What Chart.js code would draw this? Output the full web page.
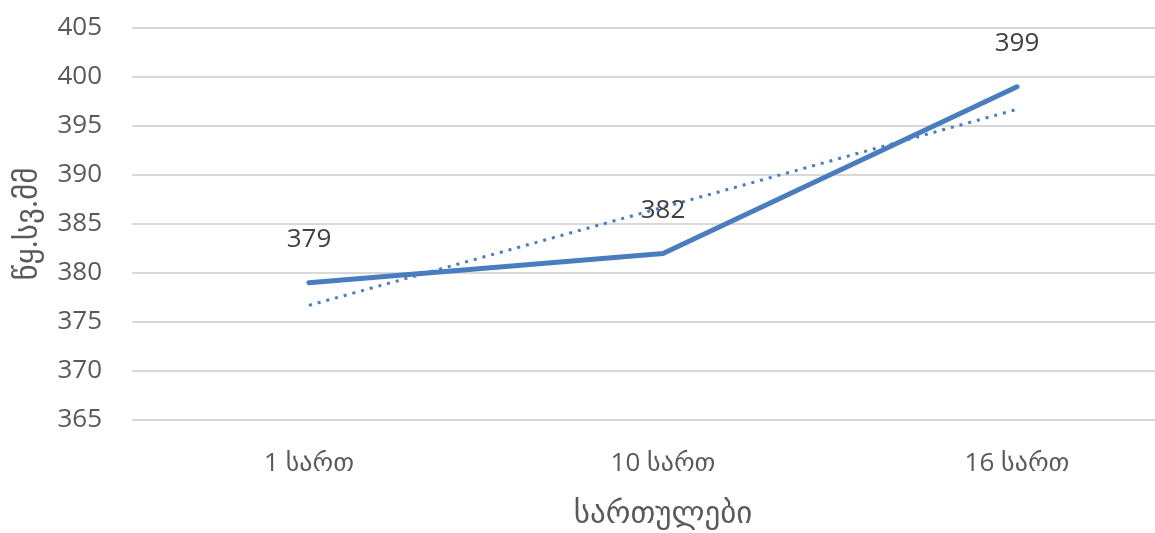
<!DOCTYPE html>
<html>
<head>
<meta charset="utf-8">
<script src="https://cdn.jsdelivr.net/npm/chart.js@4/dist/chart.umd.min.js"></script>
<style>
  html, body { margin: 0; padding: 0; background: #fff; overflow: hidden; width: 1155px; height: 533px; }
  #wrap { position: absolute; left: 0; top: 0; width: 1198px; height: 533px; }
</style>
</head>
<body>
<div id="wrap"><canvas id="c"></canvas></div>
<script>
const categories = ["1 სართ", "10 სართ", "16 სართ"];
const seriesValues = [379, 382, 399];
const trendValues = [376.7, 386.7, 396.7];
const yTicks = [365, 370, 375, 380, 385, 390, 395, 400, 405];
const yTitle = "წყ.სვ.მმ";
const xTitle = "სართულები";

const FONT = "'Open Sans', 'DejaVu Sans', sans-serif";
const BLUE = "#4a7dc0";

const dataLabels = {
  id: 'dataLabels',
  afterDatasetsDraw(chart) {
    const ctx = chart.ctx;
    const meta = chart.getDatasetMeta(0);
    ctx.save();
    ctx.font = "26px " + FONT;
    ctx.fillStyle = "#404040";
    ctx.textAlign = "center";
    ctx.textBaseline = "middle";
    meta.data.forEach((pt, i) => {
      ctx.fillText(String(seriesValues[i]), pt.x, pt.y - 43);
    });
    ctx.restore();
  }
};

new Chart(document.getElementById('c'), {
  type: 'line',
  data: {
    labels: categories,
    datasets: [
      {
        data: seriesValues,
        borderColor: BLUE,
        borderWidth: 5,
        pointRadius: 0,
        tension: 0,
        borderCapStyle: 'round',
        borderJoinStyle: 'round'
      },
      {
        data: trendValues,
        borderColor: BLUE,
        borderWidth: 3,
        borderDash: [3, 6],
        pointRadius: 0,
        tension: 0
      }
    ]
  },
  options: {
    responsive: true,
    maintainAspectRatio: false,
    animation: false,
    devicePixelRatio: 1,
    layout: { padding: { top: 28, right: 4, left: 0, bottom: 0 } },
    plugins: { legend: { display: false }, tooltip: { enabled: false } },
    scales: {
      x: {
        offset: true,
        grid: { display: false, drawTicks: false },
        border: { display: false },
        ticks: { color: "#595959", font: { family: FONT, size: 26 }, padding: 28, maxRotation: 0 },
        title: { display: true, text: xTitle, color: "#595959", font: { family: FONT, size: 31 }, padding: { top: 12, bottom: 0 } },
        afterFit(s) { s.height = 113; }
      },
      y: {
        min: 365, max: 405,
        afterBuildTicks(s) { s.ticks = yTicks.map(v => ({ value: v })); },
        grid: { color: "#d9d9d9", lineWidth: 2, drawTicks: false },
        border: { display: false },
        ticks: { color: "#595959", font: { family: FONT, size: 26 }, padding: 30 },
        title: { display: true, text: yTitle, color: "#595959", font: { family: FONT, size: 31 }, padding: { top: 10, bottom: 0 } },
        afterFit(s) { s.width = 132; s.paddingTop = 0; s.paddingBottom = 0; }
      }
    }
  },
  plugins: [dataLabels]
});
</script>
</body>
</html>
